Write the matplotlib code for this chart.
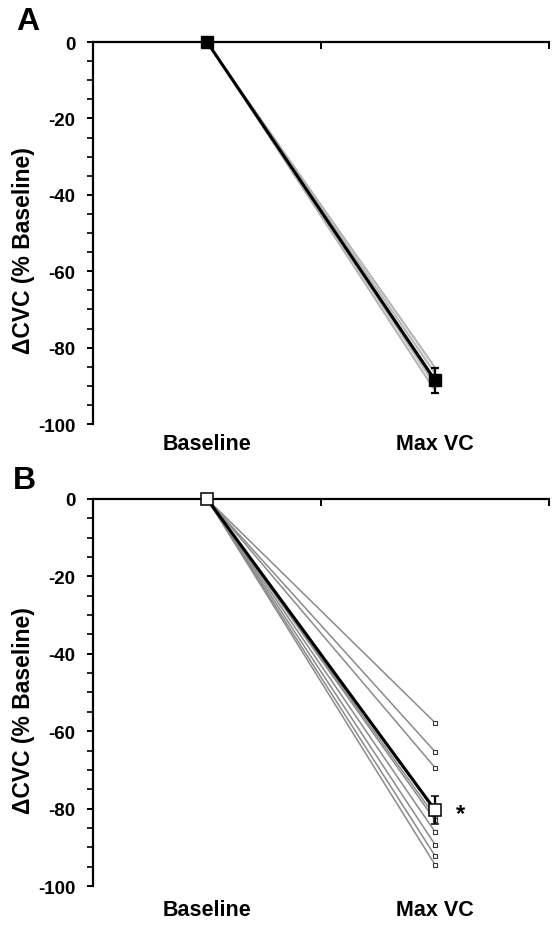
import matplotlib
matplotlib.use("Agg")
import matplotlib.pyplot as plt
from matplotlib.ticker import MultipleLocator

plt.rcParams["font.family"] = ["Liberation Sans", "DejaVu Sans"]
plt.rcParams["font.weight"] = "bold"
plt.rcParams["axes.unicode_minus"] = False

conditions = ["Baseline", "Max VC"]

# panel A: individual subjects and group mean
a_subjects = [-85.0, -85.5, -86.5, -87.0, -88.0, -88.5, -89.5, -90.0, -91.0, -91.5]
a_mean = [0.0, -88.6]
a_err = [0.0, 3.3]

# panel B
b_subjects = [-57.8, -65.3, -69.4, -80.0, -82.0, -83.0, -86.0, -89.3, -92.2, -94.5]
b_mean = [0.0, -80.4]
b_err = [0.0, 3.6]

xpos = [0.5, 1.5]

fig = plt.figure(figsize=(5.54, 9.29), dpi=100)
ax_a = fig.add_axes([0.168, 0.5425, 0.823, 0.4112])
ax_b = fig.add_axes([0.168, 0.0452, 0.823, 0.4166])


def style_axis(ax, label_off):
    ax.set_xlim(0, 2)
    ax.set_ylim(-100, 0)
    ax.spines["right"].set_visible(False)
    ax.spines["bottom"].set_visible(False)
    for s in ("left", "top"):
        ax.spines[s].set_linewidth(1.6)
    ax.xaxis.tick_top()
    ax.set_xticks([1, 2])
    ax.set_xticklabels([])
    ax.tick_params(axis="x", direction="in", length=5, width=1.4)
    ax.yaxis.set_major_locator(MultipleLocator(20))
    ax.yaxis.set_minor_locator(MultipleLocator(5))
    ax.tick_params(axis="y", which="major", direction="out", length=4.5, width=1.4,
                   labelsize=13.5, pad=8)
    ax.tick_params(axis="y", which="minor", direction="out", length=4, width=1.2)
    for lab in ax.get_yticklabels():
        lab.set_fontweight("bold")
    for x, name in zip(xpos, conditions):
        ax.text(x, -label_off, name, transform=ax.get_xaxis_transform(),
                ha="center", va="baseline", fontsize=15.5, fontweight="bold")
    ax.set_ylabel("\u0394CVC (% Baseline)", fontsize=16.5, fontweight="bold",
                  va="center")
    ax.yaxis.set_label_coords(-0.152, 0.457)


# panel A
for v in a_subjects:
    ax_a.plot(xpos, [0, v], color="#b0b0b0", lw=0.8, clip_on=False, zorder=2)
ax_a.errorbar(xpos, a_mean, yerr=a_err, color="black", lw=2.2, marker="s",
              ms=9, mfc="black", mec="black", capsize=3, elinewidth=1.6,
              capthick=1.6, clip_on=False, zorder=4)
style_axis(ax_a, 0.066)

# panel B
for v in b_subjects:
    ax_b.plot(xpos, [0, v], color="#8a8a8a", lw=1.1, marker="s", ms=3.3,
              mfc="white", mec="#333333", mew=0.8, clip_on=False, zorder=2)
ax_b.errorbar(xpos, b_mean, yerr=b_err, color="black", lw=2.2, marker="s",
              ms=8.5, mfc="white", mec="black", mew=1.1, capsize=3,
              elinewidth=1.6, capthick=1.6, clip_on=False, zorder=4)
ax_b.text(1.61, b_mean[1] - 0.8, "*", fontsize=17, fontweight="bold",
          ha="center", va="center")
style_axis(ax_b, 0.075)

fig.text(16 / 554, 1 - 22 / 929, "A", fontsize=23, fontweight="bold",
         ha="left", va="center")
fig.text(13 / 554, 1 - 481 / 929, "B", fontsize=23, fontweight="bold",
         ha="left", va="center")

fig.savefig("out.png", dpi=100)
